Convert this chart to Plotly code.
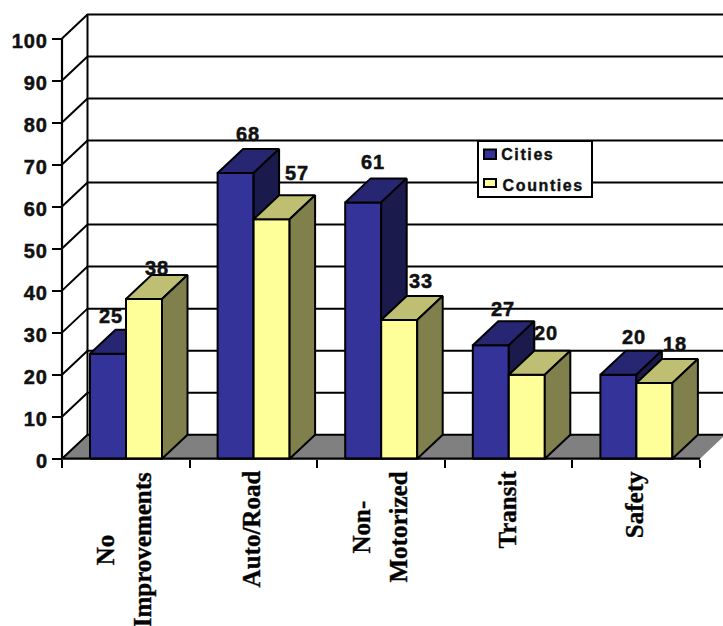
import plotly.graph_objects as go

W, H = 723, 626
categories = [["No", "Improvements"], ["Auto/Road"], ["Non-", "Motorized"], ["Transit"], ["Safety"]]
series_names = ["Cities", "Counties"]
cities = [25, 68, 61, 27, 20]
counties = [38, 57, 33, 20, 18]
y_ticks = list(range(0, 101, 10))

# pixel geometry of the plot frame
X0, X1 = 62.0, 700.0
Y0, Y100 = 458.7, 38.5
PX_CAT = (X1 - X0) / 5
PX_VAL = (Y0 - Y100) / 100
DX = 25.5 / PX_CAT      # depth offset in category units
DY = 24.0 / PX_VAL      # depth offset in value units
GAP = 28.0 / PX_CAT
BAR_W = 36.0 / PX_CAT

COL = {
    "Cities": dict(front="#333399", top="#262673", side="#1A1A4D"),
    "Counties": dict(front="#FFFF99", top="#BFBF73", side="#80804D"),
}
LINE = 2
SANS = "Liberation Sans"
SERIF = "Liberation Serif"
INK = "#111111"

# label nudges from the bar's front-top centre, pixels (right, up)
label_shift = {
    "Cities": [(3, 38), (12, 39), (10, 40), (12, 36), (16, 38)],
    "Counties": [(13, 31), (25, 46), (22, 39), (19, 42), (21, 39)],
}
cat_center_y = [550, 529, 527, 510, 505]
cat_line_gap = 37
legend_text_x = [528, 543]
legend_text_y = [155, 185]
legend_swatch_y = [(149.5, 159), (179, 187)]

fig = go.Figure()


def poly(xs, ys, fill=None, line=LINE, color="black"):
    fig.add_trace(go.Scatter(
        x=xs, y=ys, mode="lines", showlegend=False, hoverinfo="skip",
        fill="toself" if fill else None, fillcolor=fill,
        line=dict(color=color, width=line) if line else dict(width=0),
    ))


# floor
poly([0, DX, 5 + DX, 5, 0], [0, DY, DY, 0, 0], fill="#808080", line=0)
# walls: gridlines
for v in y_ticks:
    poly([0, DX, 5 + DX], [v, v + DY, v + DY])
poly([DX, DX], [DY, 100 + DY])

# bars
annots = []
for i in range(5):
    for s, (name, vals) in enumerate(zip(series_names, [cities, counties])):
        v = vals[i]
        c = COL[name]
        x0 = i + GAP + s * BAR_W
        x1 = x0 + BAR_W
        poly([x0, x1, x1, x0, x0], [0, 0, v, v, 0], fill=c["front"])
        poly([x0, x1, x1 + DX, x0 + DX, x0], [v, v, v + DY, v + DY, v], fill=c["top"])
        poly([x1, x1 + DX, x1 + DX, x1, x1], [0, DY, v + DY, v, 0], fill=c["side"])
        sx, sy = label_shift[name][i]
        annots.append(dict(
            x=(x0 + x1) / 2, y=v, xref="x", yref="y", text=str(v), showarrow=False,
            xshift=sx, yshift=sy, xanchor="center", yanchor="middle",
            font=dict(family=SANS, size=20, color=INK, weight="bold"),
        ))

# axis lines
poly([0, 0], [0, 100], line=2.2)
poly([0, 5], [0, 0], line=2.2)

# category labels
for i, lines in enumerate(categories):
    n = len(lines)
    for k, t in enumerate(lines):
        annots.append(dict(
            x=i + 0.5, y=0, xref="x", yref="y", text=t, showarrow=False, textangle=-90,
            xshift=(k - (n - 1) / 2) * cat_line_gap - 2,
            yshift=-(cat_center_y[i] - Y0),
            xanchor="center", yanchor="middle",
            font=dict(family=SERIF, size=25, color="black", weight="bold"),
        ))


def px(x):
    return x / W


def py(y):
    return 1 - y / H


# legend
shapes = [dict(type="rect", xref="paper", yref="paper", x0=px(478), x1=px(592), y0=py(141), y1=py(197),
               fillcolor="white", line=dict(color="black", width=LINE), layer="above")]
for name, (ya, yb) in zip(series_names, legend_swatch_y):
    shapes.append(dict(type="rect", xref="paper", yref="paper", x0=px(484), x1=px(496), y0=py(ya), y1=py(yb),
                       fillcolor=COL[name]["front"], line=dict(color="black", width=LINE), layer="above"))
for name, xc, yc in zip(series_names, legend_text_x, legend_text_y):
    annots.append(dict(x=px(xc), y=py(yc), xref="paper", yref="paper", text=name, showarrow=False,
                       xanchor="center", yanchor="middle",
                       font=dict(family=SANS, size=16, color=INK, weight="bold")))

# axes fill the whole page; ranges are chosen so the frame lands on X0..X1 and Y0..Y100
fig.update_layout(
    width=W, height=H, margin=dict(l=0, r=0, t=0, b=0, pad=0, autoexpand=False),
    paper_bgcolor="white", plot_bgcolor="white", showlegend=False,
    xaxis=dict(domain=[0, 1], range=[-X0 / PX_CAT, (W - X0) / PX_CAT], tickmode="array", tickvals=list(range(6)),
               showticklabels=False, ticks="outside", ticklen=8, tickwidth=2, tickcolor="black",
               showline=False, showgrid=False, zeroline=False,
               anchor="free", position=1 - Y0 / H),
    yaxis=dict(domain=[0, 1], range=[-(H - Y0) / PX_VAL, Y0 / PX_VAL], tickmode="array", tickvals=y_ticks,
               ticks="outside", ticklen=10, tickwidth=2, tickcolor="black",
               showline=False, showgrid=False, zeroline=False,
               anchor="free", position=X0 / W, ticklabelshift=2,
               tickfont=dict(family=SANS, size=20, color=INK, weight="bold")),
    shapes=shapes, annotations=annots,
)

page_css = """
document.body.style.margin='0';
document.documentElement.style.overflow='hidden';
function heavy(e,w){e.style.stroke='#111111';e.style.strokeWidth=w;}
document.querySelectorAll('.ytick text').forEach(function(e){e.style.letterSpacing='1px';heavy(e,'0.5px');});
document.querySelectorAll('.annotation-text').forEach(function(e){
  var t=e.textContent;
  if(/^[0-9]+$/.test(t)){e.style.letterSpacing='1px';heavy(e,'0.5px');}
  else if(t==='Cities'||t==='Counties'){e.style.letterSpacing='1.6px';heavy(e,'0.4px');}
  else{heavy(e,'0.4px');}
});
"""
fig.write_html("out.html", config=dict(displayModeBar=False), post_script=page_css)
